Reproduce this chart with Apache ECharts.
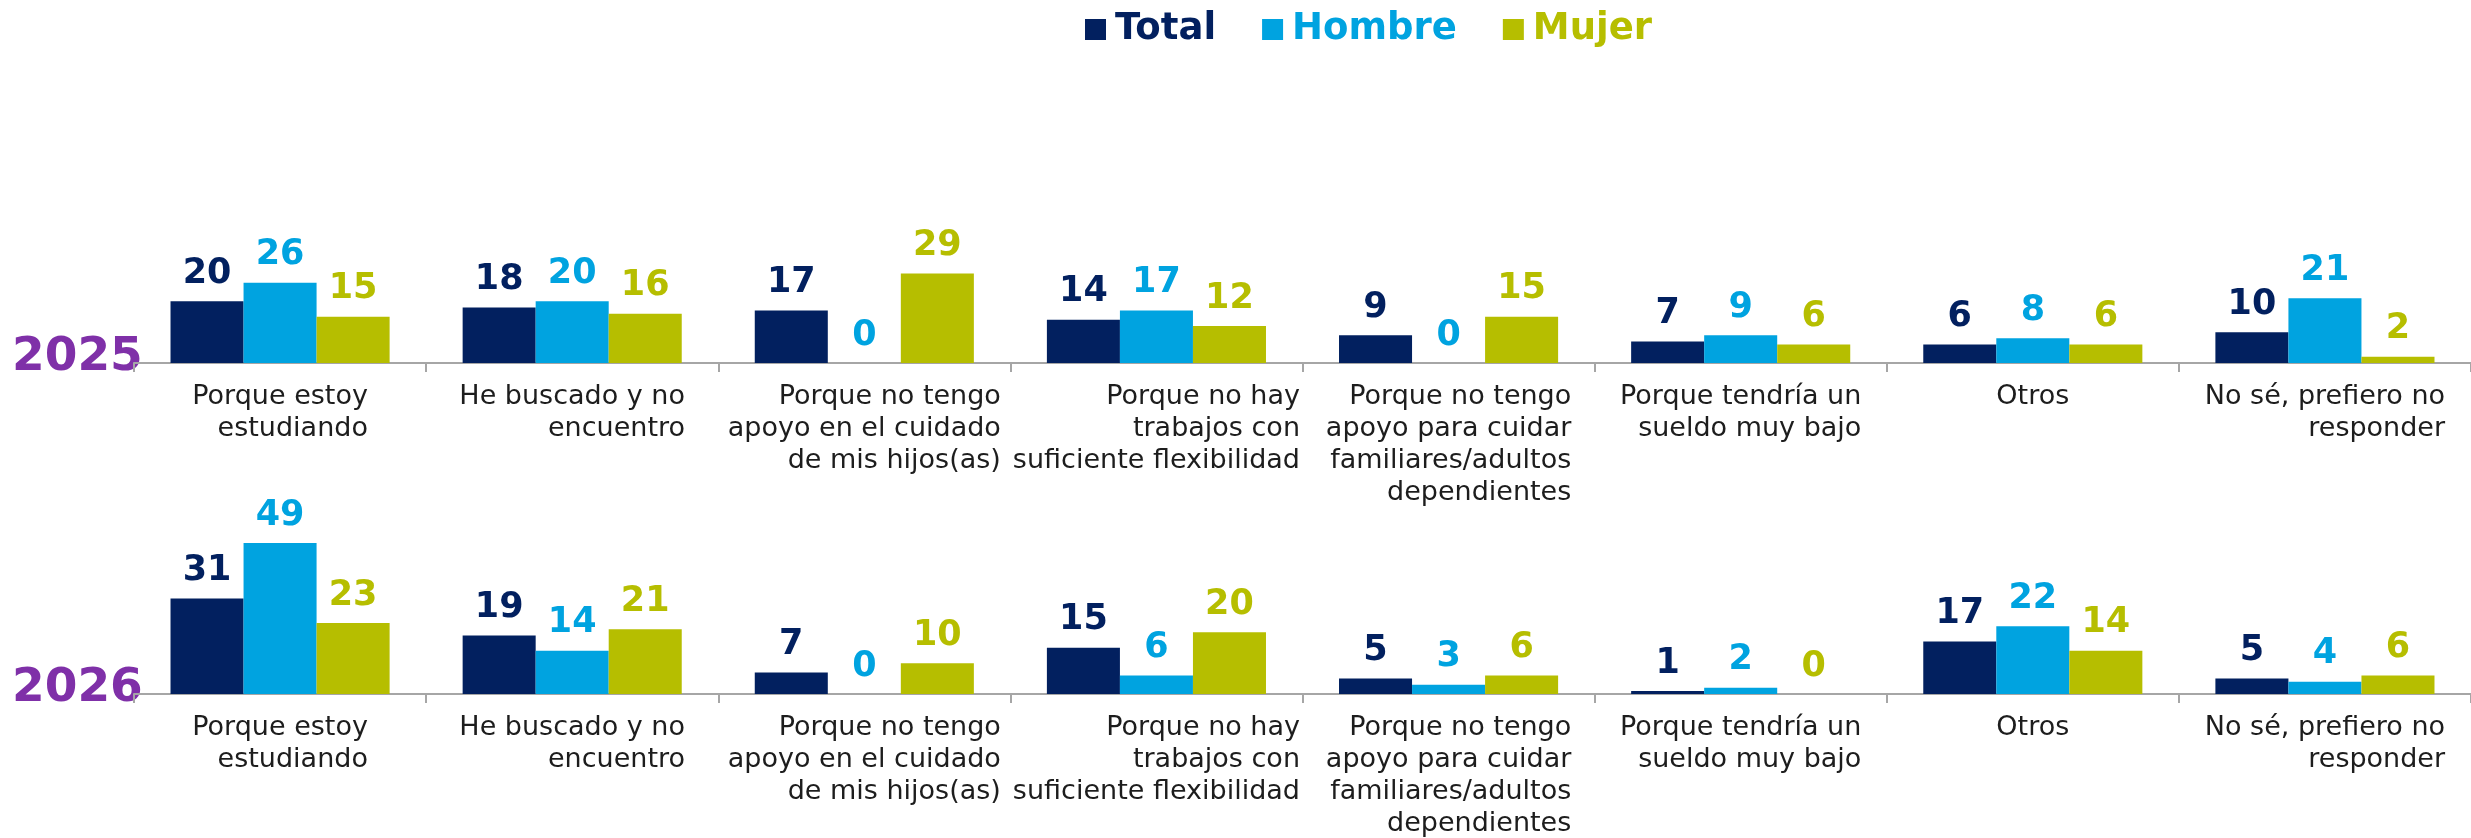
<!DOCTYPE html>
<html>
	<head>
		<meta charset="utf-8">
		<title>Razones 2025 / 2026</title>
		<script src="https://cdn.jsdelivr.net/npm/echarts@6/dist/echarts.min.js"></script>
		<style>
			html, body { margin: 0; padding: 0; background: #fff; }
			#main { width: 2471px; height: 838px; }
		</style>
	</head>
	<body>
		<div id="main"></div>
		<script type="text/javascript">
			// categorias (mismo orden en ambos años)
			var categories = [
				'Porque estoy\nestudiando',
				'He buscado y no\nencuentro',
				'Porque no tengo\napoyo en el cuidado\nde mis hijos(as)',
				'Porque no hay\ntrabajos con\nsuficiente flexibilidad',
				'Porque no tengo\napoyo para cuidar\nfamiliares/adultos\ndependientes',
				'Porque tendría un\nsueldo muy bajo',
				'Otros',
				'No sé, prefiero no\nresponder'
			];
			var years = ['2025', '2026'];

			// 2025
			var total2025 = [20, 18, 17, 14, 9, 7, 6, 10];
			var hombre2025 = [26, 20, 0, 17, 0, 9, 8, 21];
			var mujer2025 = [15, 16, 29, 12, 15, 6, 6, 2];
			// 2026
			var total2026 = [31, 19, 7, 15, 5, 1, 17, 5];
			var hombre2026 = [49, 14, 0, 6, 3, 2, 22, 4];
			var mujer2026 = [23, 21, 10, 20, 6, 0, 14, 6];

			var colors = { Total: '#02205f', Hombre: '#00a3e0', Mujer: '#b6be00' };

			var myChart = echarts.init(document.getElementById('main'));

			// etiquetas de categoria: bloque centrado, lineas alineadas a la derecha
			function catLabel(v) {
				return v.split('\n').map(function (l) { return '{r|' + l + '}'; }).join('\n');
			}

			function xAxis(idx) {
				return {
					type: 'category',
					gridIndex: idx,
					data: categories,
					axisLine: { lineStyle: { color: '#a6a6a6', width: 2 } },
					axisTick: { show: true, length: 9, lineStyle: { color: '#a6a6a6', width: 2 } },
					axisLabel: {
						interval: 0,
						margin: 18,
						formatter: catLabel,
						rich: {
							r: {
								align: 'right',
								fontFamily: 'DejaVu Sans',
								fontSize: 27,
								lineHeight: 32,
								color: '#1d1d1d'
							}
						}
					}
				};
			}

			function yAxis(idx) {
				return { type: 'value', gridIndex: idx, min: 0, max: 60, show: false, splitLine: { show: false } };
			}

			function bar(name, data, idx) {
				return {
					name: name,
					type: 'bar',
					xAxisIndex: idx,
					yAxisIndex: idx,
					data: data,
					barGap: '0%',
					barCategoryGap: '25%',
					itemStyle: { color: colors[name] },
					label: {
						show: true,
						position: 'top',
						distance: 10,
						color: colors[name],
						fontFamily: 'DejaVu Sans',
						fontWeight: 'bold',
						fontSize: 35
					}
				};
			}

			var option = {
				animation: false,
				legend: {
					top: 6,
					left: 1080,
					icon: 'rect',
					itemWidth: 21,
					itemHeight: 21,
					itemGap: 46,
					textStyle: {
						fontFamily: 'DejaVu Sans',
						fontWeight: 'bold',
						fontSize: 37,
						padding: [0, 0, 0, 4]
					},
					data: [
						{ name: 'Total', textStyle: { color: colors.Total } },
						{ name: 'Hombre', textStyle: { color: colors.Hombre } },
						{ name: 'Mujer', textStyle: { color: colors.Mujer } }
					]
				},
				grid: [
					{ left: 134, right: 0, top: 178, height: 185 },
					{ left: 134, right: 0, top: 509, height: 185 }
				],
				xAxis: [xAxis(0), xAxis(1)],
				yAxis: [yAxis(0), yAxis(1)],
				graphic: [
					{
						type: 'text', left: 12, top: 334,
						style: { text: years[0], fill: '#7f30a8', font: 'bold 47px "DejaVu Sans"' }
					},
					{
						type: 'text', left: 12, top: 665,
						style: { text: years[1], fill: '#7f30a8', font: 'bold 47px "DejaVu Sans"' }
					}
				],
				series: [
					bar('Total', total2025, 0),
					bar('Hombre', hombre2025, 0),
					bar('Mujer', mujer2025, 0),
					bar('Total', total2026, 1),
					bar('Hombre', hombre2026, 1),
					bar('Mujer', mujer2026, 1)
				]
			};

			myChart.setOption(option);
		</script>
	</body>
</html>
